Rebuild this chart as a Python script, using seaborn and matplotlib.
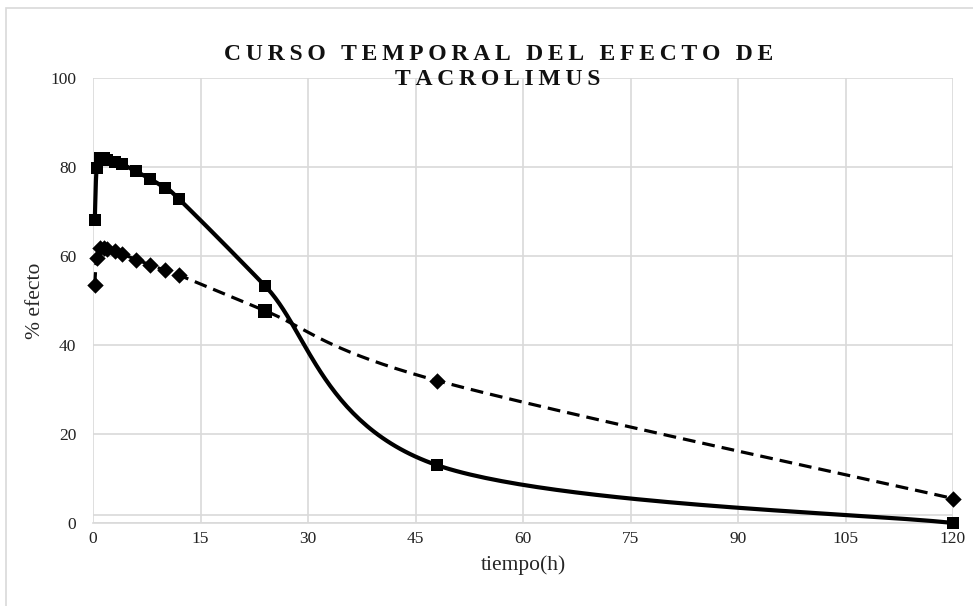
import numpy as np
import pandas as pd
import matplotlib
matplotlib.use("Agg")
import matplotlib.pyplot as plt
import seaborn as sns
from matplotlib.patches import Rectangle

# ---- data ----
tiempo = [0.25, 0.5, 1, 1.5, 2, 3, 4, 6, 8, 10, 12, 24, 48, 120]
efecto_solid = [68.0, 79.7, 82.0, 82.0, 81.6, 81.2, 80.7, 79.0, 77.3, 75.3, 72.8, 53.3, 13.0, 0.0]
efecto_dashed = [53.5, 59.6, 61.7, 61.9, 61.6, 61.1, 60.5, 59.2, 58.0, 56.8, 55.7, 47.7, 32.0, 5.5]
x_ticks = [0, 15, 30, 45, 60, 75, 90, 105, 120]
y_ticks = [0, 20, 40, 60, 80, 100]
title = "CURSO TEMPORAL DEL EFECTO DE\nTACROLIMUS"
x_label = "tiempo(h)"
y_label = "% efecto"

sns.set_theme(style="white")
plt.rcParams['font.family'] = ['Liberation Serif', 'DejaVu Serif']


def smooth(xs, ys, n=60):
    """Excel-like smoothed line (Catmull-Rom Bezier segments)."""
    P = np.column_stack([xs, ys]).astype(float)
    out = []
    for i in range(len(P) - 1):
        p0 = P[i - 1] if i > 0 else P[i]
        p1 = P[i]
        p2 = P[i + 1]
        p3 = P[i + 2] if i + 2 < len(P) else P[i + 1]
        b1 = p1 + (p2 - p0) / 6.0
        b2 = p2 - (p3 - p1) / 6.0
        t = np.linspace(0, 1, n)[:, None]
        seg = ((1 - t) ** 3) * p1 + 3 * ((1 - t) ** 2) * t * b1 + 3 * (1 - t) * t ** 2 * b2 + t ** 3 * p2
        out.append(seg if i == 0 else seg[1:])
    s = np.vstack(out)
    return s[:, 0], s[:, 1]


fig = plt.figure(figsize=(9.73, 6.06), dpi=100)
ax = fig.add_axes([93 / 973, 1 - 523 / 606, (953 - 93) / 973, (523 - 78) / 606])

# figure border
fig.patches.append(Rectangle((6 / 973, -0.05), 1.2, 1 - 8 / 606 + 0.05, transform=fig.transFigure,
                             fill=False, edgecolor="#d9d9d9", linewidth=1.2, zorder=0))

sx, sy = smooth(tiempo, efecto_solid)
dx, dy = smooth(tiempo, efecto_dashed)
ax.plot(sx, sy, color="black", linewidth=3.0, solid_capstyle="butt", zorder=3, clip_on=False)
ax.plot(dx, dy, color="black", linewidth=2.3, linestyle=(0, (4.0, 2.2)), zorder=3, clip_on=False)

df_s = pd.DataFrame({"t": tiempo, "v": efecto_solid})
df_d = pd.DataFrame({"t": tiempo, "v": efecto_dashed})
sns.scatterplot(data=df_s, x="t", y="v", marker="s", s=85, color="black", edgecolor="black",
                linewidth=0, ax=ax, zorder=4, clip_on=False)
mask = df_d["t"] == 24
sns.scatterplot(data=df_d[~mask], x="t", y="v", marker="D", s=70, color="black", edgecolor="black",
                linewidth=0, ax=ax, zorder=4, clip_on=False)
sns.scatterplot(data=df_d[mask], x="t", y="v", marker="s", s=110, color="black", edgecolor="black",
                linewidth=0, ax=ax, zorder=4, clip_on=False)

ax.set_xlim(0, 120)
ax.set_ylim(0, 100)
ax.set_xticks(x_ticks)
ax.set_yticks(y_ticks)
ax.grid(True, color="#d9d9d9", linewidth=1.2)
ax.axhline(1.8, color="#d9d9d9", linewidth=1.2, zorder=1)
for sp in ["top", "right", "left"]:
    ax.spines[sp].set_visible(False)
ax.spines["bottom"].set_color("#d9d9d9")
ax.spines["bottom"].set_linewidth(1.2)
ax.tick_params(axis="both", length=0, labelsize=12.5, colors="#222222")
ax.tick_params(axis="x", pad=6)
ax.tick_params(axis="y", pad=12)
ax.set_xlabel(x_label, fontsize=15.5, labelpad=6)
ax.set_ylabel(y_label, fontsize=15.5, labelpad=4)

spaced = "\n".join("\u2009".join(line) for line in title.split("\n"))
fig.text(0.512, 1 - 67 / 606, spaced, ha="center", va="center", fontsize=17, fontweight="bold",
         linespacing=1.2, color="#111111")

fig.savefig("out.png", dpi=100)
